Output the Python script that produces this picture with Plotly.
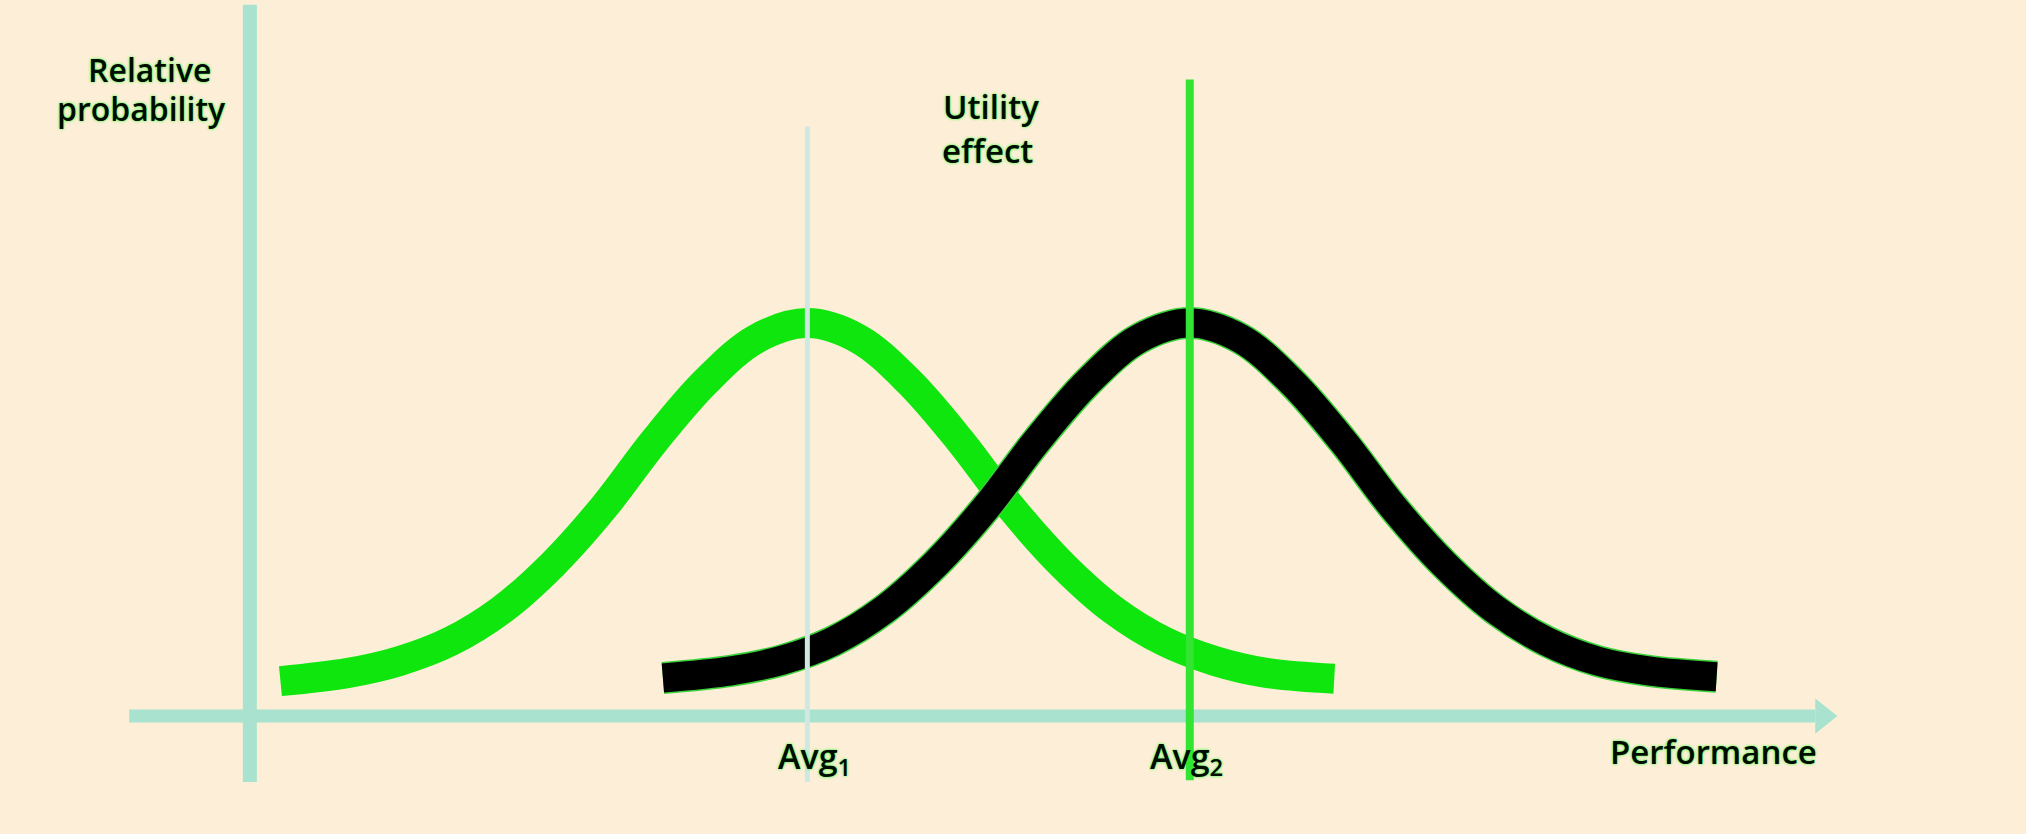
import plotly.graph_objects as go

# ---- data ----
# Performance offsets from each group's average, and the relative probability drawn there
offsets = [-31, -27, -24, -21, -18, -15, -12, -9, -6, -3, 0, 3, 6, 9, 12, 15, 18, 21, 24, 27, 31]
green_prob = [0.089, 0.11, 0.14, 0.19, 0.27, 0.385, 0.53, 0.70, 0.85, 0.96, 1.0,
              0.96, 0.85, 0.70, 0.53, 0.385, 0.27, 0.19, 0.14, 0.11, 0.095]
black_prob = [0.097, 0.115, 0.142, 0.19, 0.27, 0.385, 0.53, 0.70, 0.85, 0.96, 1.0,
              0.96, 0.85, 0.70, 0.53, 0.385, 0.27, 0.19, 0.14, 0.115, 0.10]
avg1 = 32.5
avg2 = 55.0
green_x = [avg1 + d for d in offsets]
black_x = [avg2 + d for d in offsets]

BG = "#fdefd7"
GREEN = "#0ee60e"
AXIS = "#a9e2cf"
TXT = "#020c02"

fig = go.Figure()

# curves
fig.add_trace(go.Scatter(x=green_x, y=green_prob, mode="lines",
                         line=dict(color=GREEN, width=30, shape="spline", smoothing=1.0),
                         hoverinfo="skip"))
fig.add_trace(go.Scatter(x=black_x, y=black_prob, mode="lines",
                         line=dict(color="#3ad23a", width=32, shape="spline", smoothing=1.0),
                         hoverinfo="skip"))
fig.add_trace(go.Scatter(x=black_x, y=black_prob, mode="lines",
                         line=dict(color="#000000", width=29, shape="spline", smoothing=1.0),
                         hoverinfo="skip"))

shapes = [
    # y axis
    dict(type="line", xref="x", yref="y", x0=-0.3, x1=-0.3, y0=-0.168, y1=1.81,
         line=dict(color=AXIS, width=14), layer="below"),
    # x axis
    dict(type="line", xref="x", yref="y", x0=-7.4, x1=91.8, y0=0, y1=0,
         line=dict(color=AXIS, width=13), layer="below"),
    dict(type="path", xref="x", yref="y",
         path="M 91.8 0.045 L 93.1 0 L 91.8 -0.045 Z",
         fillcolor=AXIS, line=dict(width=0), layer="below"),
    # Avg1 marker line (pale)
    dict(type="line", xref="x", yref="y", x0=avg1, x1=avg1, y0=-0.168, y1=1.50,
         line=dict(color="#cfe8e2", width=5)),
    # Avg2 marker line (green)
    dict(type="line", xref="x", yref="y", x0=avg2, x1=avg2, y0=-0.163, y1=1.62,
         line=dict(color="#33e433", width=8)),
]


def mkfont(size):
    return dict(family="Open Sans, Liberation Sans, sans-serif", size=size, color=TXT,
                weight=600, shadow="0px 0px 3px #22ff22")


def label(x, y, text, size=33):
    return dict(x=x, y=y, text=text, showarrow=False, font=mkfont(size),
                xref="x", yref="y", xanchor="center", yanchor="middle")


annotations = [
    label(-6.2, 1.645, "Relative", 32),
    label(-6.7, 1.545, "probability", 32),
    label(43.3, 1.552, "Utility"),
    label(43.1, 1.440, "effect"),
    label(32.9, -0.107, "Avg<sub>1</sub>", 34),
    label(54.8, -0.107, "Avg<sub>2</sub>", 34),
    label(85.8, -0.089, "Performance"),
]

fig.update_layout(
    width=2026, height=834,
    margin=dict(l=0, r=0, t=0, b=0),
    paper_bgcolor=BG, plot_bgcolor=BG,
    showlegend=False,
    xaxis=dict(range=[-15.0, 104.2], visible=False, fixedrange=True),
    yaxis=dict(range=[-0.300, 1.822], visible=False, fixedrange=True),
    shapes=shapes,
    annotations=annotations,
)

fig.write_html("out.html",
               config=dict(displayModeBar=False),
               post_script="document.body.style.margin='0';document.body.style.background='%s';" % BG)
